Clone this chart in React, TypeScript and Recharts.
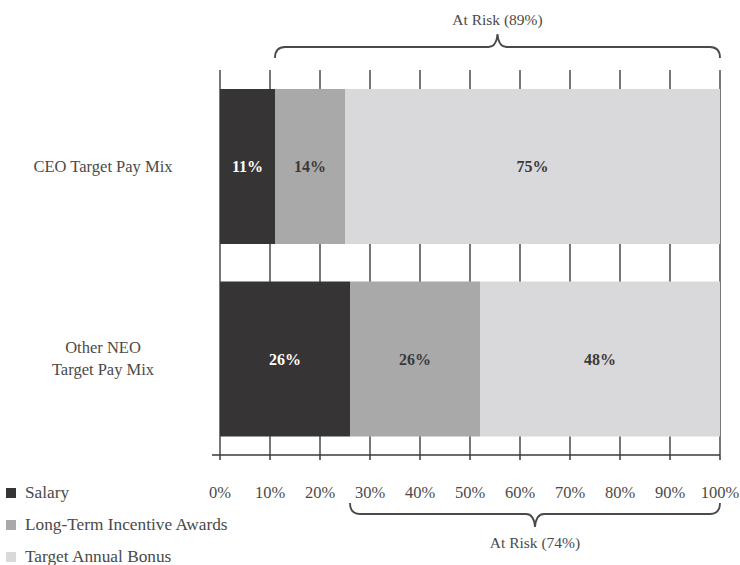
import React from 'react';
import {
  BarChart,
  Bar,
  XAxis,
  YAxis,
  CartesianGrid,
  LabelList,
  Legend,
  ReferenceArea,
} from 'recharts';

const categories = ['CEO Target Pay Mix', 'Other NEO\nTarget Pay Mix'];
const salary = [11, 26];
const ltiAwards = [14, 26];
const annualBonus = [75, 48];
const xTicks = [0, 10, 20, 30, 40, 50, 60, 70, 80, 90, 100];
const seriesNames = ['Salary', 'Long-Term Incentive Awards', 'Target Annual Bonus'];
const atRiskCeo = [11, 100];
const atRiskNeo = [26, 100];
const atRiskLabels = ['At Risk (89%)', 'At Risk (74%)'];

const data = categories.map((name, i) => ({
  name,
  salary: salary[i],
  lti: ltiAwards[i],
  bonus: annualBonus[i],
}));

const FONT = '"Liberation Serif", "Times New Roman", serif';
const COLORS = ['#363435', '#a9a9aa', '#d9d9db'];
const TEXT = '#4a4a4a';

const YTick = (props: any) => {
  const { x, y, payload } = props;
  const lines = String(payload.value).split('\n');
  const cx = x - 117;
  const lh = 22;
  const start = -((lines.length - 1) * lh) / 2;
  return (
    <text x={cx} y={y} textAnchor="middle" fontFamily={FONT} fontSize={16.5} fill={TEXT}>
      {lines.map((l, i) => (
        <tspan key={i} x={cx} dy={i === 0 ? start + 5.5 : lh}>
          {l}
        </tspan>
      ))}
    </text>
  );
};

const bracePath = (x1: number, x2: number, yH: number, dir: number) => {
  // dir = -1 : peak up (ends point down); dir = 1 : peak down (ends point up)
  const yEnd = yH - dir * 11;
  const yPeak = yH + dir * 13;
  const cx = (x1 + x2) / 2;
  const r = 10;
  return [
    `M ${x1} ${yEnd}`,
    `Q ${x1} ${yH} ${x1 + r} ${yH}`,
    `L ${cx - 9} ${yH}`,
    `Q ${cx - 1} ${yH} ${cx} ${yPeak}`,
    `Q ${cx + 1} ${yH} ${cx + 9} ${yH}`,
    `L ${x2 - r} ${yH}`,
    `Q ${x2} ${yH} ${x2} ${yEnd}`,
  ].join(' ');
};

const TopBrace = (props: any) => {
  const { x, y, width } = props;
  const yH = y - 23;
  return (
    <g>
      <path d={bracePath(x, x + width, yH, -1)} fill="none" stroke="#4a4a4a" strokeWidth={1.8} />
      <text
        x={x + width / 2}
        y={y - 50.5}
        dy="0.35em"
        textAnchor="middle"
        fontFamily={FONT}
        fontSize={15.5}
        fill={TEXT}
      >
        {atRiskLabels[0]}
      </text>
    </g>
  );
};

const BottomBrace = (props: any) => {
  const { x, y, width, height } = props;
  const bottom = y + height;
  const yH = bottom + 59;
  return (
    <g>
      <path d={bracePath(x, x + width, yH, 1)} fill="none" stroke="#4a4a4a" strokeWidth={1.8} />
      <text
        x={x + width / 2}
        y={bottom + 88}
        dy="0.35em"
        textAnchor="middle"
        fontFamily={FONT}
        fontSize={15.5}
        fill={TEXT}
      >
        {atRiskLabels[1]}
      </text>
    </g>
  );
};

const AxisStub = (props: any) => {
  const { x, y, height } = props;
  const bottom = y + height;
  return <path d={`M ${x - 8} ${bottom} L ${x} ${bottom}`} stroke="#3a3a3a" strokeWidth={1.5} />;
};

const LegendContent = () => (
  <div style={{ fontFamily: FONT, fontSize: 17.3, color: TEXT }}>
    {seriesNames.map((n, i) => (
      <div key={n} style={{ height: 32, display: 'flex', alignItems: 'center' }}>
        <span
          style={{
            display: 'inline-block',
            width: 10,
            height: 10,
            background: COLORS[i],
            marginLeft: 6,
            marginRight: 9,
          }}
        />
        <span>{n}</span>
      </div>
    ))}
  </div>
);

const pct = (v: any) => `${v}%`;

export default function App() {
  return (
    <div style={{ position: 'absolute', left: 0, top: 0, width: 740, height: 565, background: '#fff' }}>
      <BarChart
        width={740}
        height={565}
        data={data}
        layout="vertical"
        margin={{ top: 70, right: 20, bottom: 70, left: 0 }}
      >
        <CartesianGrid horizontal={false} stroke="#4a4a4a" strokeWidth={1.5} />
        <XAxis
          type="number"
          domain={[0, 100]}
          ticks={xTicks}
          tickFormatter={pct}
          height={40}
          axisLine={{ stroke: '#3a3a3a', strokeWidth: 1.5 }}
          tickLine={{ stroke: '#3a3a3a', strokeWidth: 1.5 }}
          tickSize={5}
          tickMargin={26}
          tick={{ fontFamily: FONT, fontSize: 16.5, fill: TEXT }}
          interval={0}
        />
        <YAxis
          type="category"
          dataKey="name"
          width={220}
          axisLine={false}
          tickLine={false}
          tickSize={0}
          tickMargin={0}
          tick={<YTick />}
        />
        <Legend
          layout="horizontal"
          verticalAlign="middle"
          align="center"
          content={<LegendContent />}
          wrapperStyle={{ left: 0, top: 477, width: 260, height: 96 }}
        />
        <Bar dataKey="salary" name={seriesNames[0]} stackId="a" fill={COLORS[0]} barSize={155} isAnimationActive={false}>
          <LabelList
            dataKey="salary"
            position="center"
            formatter={pct}
            fill="#ffffff"
            fontFamily={FONT}
            fontSize={16}
            fontWeight="bold"
          />
        </Bar>
        <Bar dataKey="lti" name={seriesNames[1]} stackId="a" fill={COLORS[1]} barSize={155} isAnimationActive={false}>
          <LabelList
            dataKey="lti"
            position="center"
            formatter={pct}
            fill="#3a3a3a"
            fontFamily={FONT}
            fontSize={16}
            fontWeight="bold"
          />
        </Bar>
        <Bar dataKey="bonus" name={seriesNames[2]} stackId="a" fill={COLORS[2]} barSize={155} isAnimationActive={false}>
          <LabelList
            dataKey="bonus"
            position="center"
            formatter={pct}
            fill="#3a3a3a"
            fontFamily={FONT}
            fontSize={16}
            fontWeight="bold"
          />
        </Bar>
        <ReferenceArea
          x1={xTicks[0]}
          x2={xTicks[1]}
          ifOverflow="visible"
          fill="none"
          stroke="none"
          shape={<AxisStub />}
        />
        <ReferenceArea
          x1={atRiskCeo[0]}
          x2={atRiskCeo[1]}
          ifOverflow="visible"
          fill="none"
          stroke="none"
          shape={<TopBrace />}
        />
        <ReferenceArea
          x1={atRiskNeo[0]}
          x2={atRiskNeo[1]}
          ifOverflow="visible"
          fill="none"
          stroke="none"
          shape={<BottomBrace />}
        />
      </BarChart>
    </div>
  );
}
